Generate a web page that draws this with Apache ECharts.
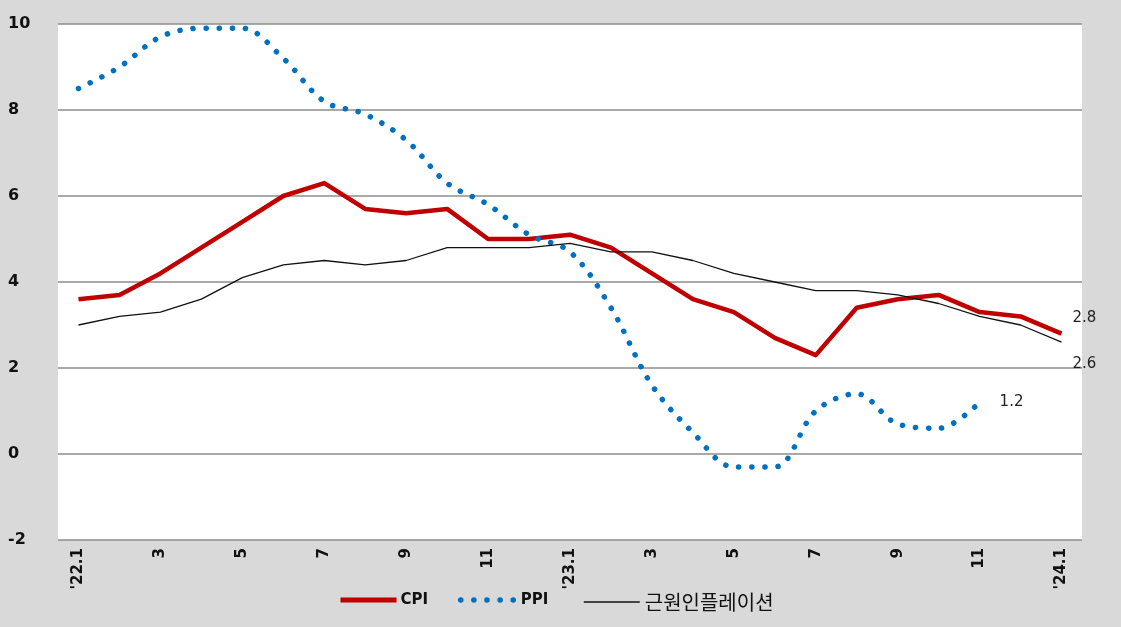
<!DOCTYPE html>
<html>
<head>
<meta charset="utf-8">
<script src="https://cdn.jsdelivr.net/npm/echarts@6/dist/echarts.min.js"></script>
<style>
  html, body { margin: 0; padding: 0; background: #d9d9d9; }
  #chart { width: 1121px; height: 627px; }
</style>
</head>
<body>
<div id="chart"></div>
<script>
// Monthly year-on-year rates, Jan 2022 – Jan 2024
const months = ["'22.1", "2", "3", "4", "5", "6", "7", "8", "9", "10", "11", "12",
                "'23.1", "2", "3", "4", "5", "6", "7", "8", "9", "10", "11", "12",
                "'24.1"];
const cpi  = [3.6, 3.7, 4.2, 4.8, 5.4, 6.0, 6.3, 5.7, 5.6, 5.7, 5.0, 5.0,
              5.1, 4.8, 4.2, 3.6, 3.3, 2.7, 2.3, 3.4, 3.6, 3.7, 3.3, 3.2,
              2.8];
const ppi  = [8.5, 9.0, 9.7, 9.9, 9.9, 9.2, 8.2, 7.9, 7.3, 6.3, 5.8, 5.1,
              4.7, 3.4, 1.6, 0.5, -0.3, -0.3, 1.0, 1.4, 0.7, 0.6, 1.2, null,
              null];
const core = [3.0, 3.2, 3.3, 3.6, 4.1, 4.4, 4.5, 4.4, 4.5, 4.8, 4.8, 4.8,
              4.9, 4.7, 4.7, 4.5, 4.2, 4.0, 3.8, 3.8, 3.7, 3.5, 3.2, 3.0,
              2.6];
const yTicks = { min: -2, max: 10, step: 2 };

const numFont = 'DejaVu Sans';

// Put a value label on the last non-empty point of a series
function labelLast(values, offset) {
  let last = -1;
  values.forEach((v, i) => { if (v !== null && v !== undefined) last = i; });
  return values.map((v, i) => i === last ? {
    value: v,
    label: {
      show: true, position: 'right', offset: offset,
      formatter: (p) => Number(p.value).toFixed(1),
      fontFamily: numFont, fontSize: 15, color: '#222'
    }
  } : v);
}

const chart = echarts.init(document.getElementById('chart'), null, { renderer: 'canvas' });

const legendBase = {
  top: 592, itemWidth: 56, itemHeight: 20, itemGap: 0, padding: 0,
  itemStyle: { opacity: 0 }, selectedMode: false
};

// Lines carry an invisible point marker so the end value can be labelled
const hiddenMarker = { symbol: 'circle', symbolSize: 0.01, showSymbol: true, showAllSymbol: true };

chart.setOption({
  backgroundColor: '#d9d9d9',
  animation: false,
  grid: {
    left: 58, right: 39, top: 24, bottom: 87,
    show: true, backgroundColor: '#ffffff', borderWidth: 0
  },
  legend: [
    Object.assign({}, legendBase, {
      left: 338, data: ['CPI'],
      lineStyle: { width: 5, color: '#C00000' },
      textStyle: { fontFamily: numFont, fontWeight: 'bold', fontSize: 15, color: '#111', padding: [0, 0, 0, -1] }
    }),
    Object.assign({}, legendBase, {
      left: 458, data: ['PPI'],
      lineStyle: { width: 5.5, color: '#0070C0', type: [0.1, 13], cap: 'round' },
      textStyle: { fontFamily: numFont, fontWeight: 'bold', fontSize: 15, color: '#111', padding: [0, 0, 0, -1] }
    }),
    Object.assign({}, legendBase, {
      left: 583, data: ['근원인플레이션'],
      lineStyle: { width: 1.5, color: '#111' },
      textStyle: { fontFamily: 'Noto Sans CJK KR', fontSize: 20, color: '#111' }
    })
  ],
  xAxis: {
    type: 'category',
    data: months,
    boundaryGap: true,
    axisLine: { show: false },
    axisTick: { show: false },
    axisLabel: {
      interval: 1, rotate: 90, margin: 8,
      fontFamily: numFont, fontWeight: 'bold', fontSize: 15, color: '#111'
    },
    splitLine: { show: false }
  },
  yAxis: {
    type: 'value',
    min: yTicks.min, max: yTicks.max, interval: yTicks.step,
    axisLine: { show: false },
    axisTick: { show: false },
    axisLabel: {
      align: 'left', margin: 50,
      fontFamily: numFont, fontWeight: 'bold', fontSize: 16, color: '#111'
    },
    splitLine: { show: true, lineStyle: { color: '#8c8c8c', width: 1.5 } }
  },
  series: [
    Object.assign({}, hiddenMarker, {
      name: 'CPI', type: 'line', data: labelLast(cpi, [6, -15]),
      clip: false,
      lineStyle: { color: '#C00000', width: 4.5, join: 'round' },
      itemStyle: { color: '#C00000' }, z: 3
    }),
    Object.assign({}, hiddenMarker, {
      name: 'PPI', type: 'line', data: labelLast(ppi, [15, 0]),
      smooth: 0.35, clip: false, connectNulls: false,
      lineStyle: { color: '#0070C0', width: 5.5, type: [0.1, 13], cap: 'round' },
      itemStyle: { color: '#0070C0' }, z: 4
    }),
    Object.assign({}, hiddenMarker, {
      name: '근원인플레이션', type: 'line', data: labelLast(core, [6, 22]),
      clip: false,
      lineStyle: { color: '#111', width: 1.3 },
      itemStyle: { color: '#111' }, z: 5
    })
  ]
});
</script>
</body>
</html>
